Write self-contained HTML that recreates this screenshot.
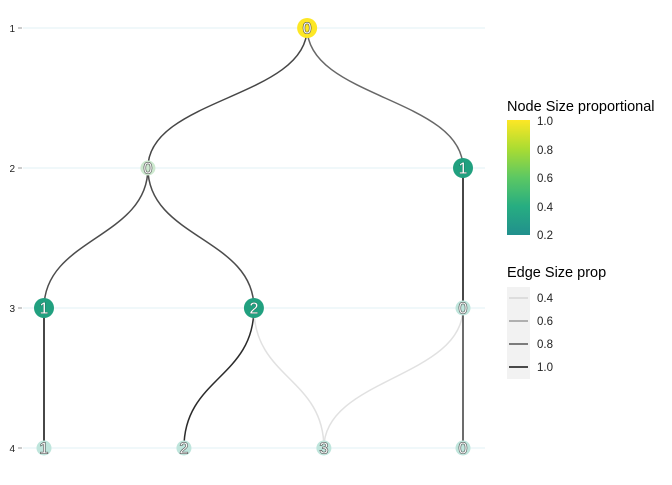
<!DOCTYPE html>
<html><head><meta charset="utf-8"><style>
body{margin:0;background:#fff}
text{font-family:"Liberation Sans",sans-serif}
</style></head><body>
<svg id="chart" width="672" height="480" viewBox="0 0 672 480" xmlns="http://www.w3.org/2000/svg">
<defs>
<linearGradient id="vir" x1="0" y1="1" x2="0" y2="0">
<stop offset="0" stop-color="#21908d"/><stop offset="0.25" stop-color="#27ad81"/><stop offset="0.5" stop-color="#5cc863"/><stop offset="0.75" stop-color="#aadc32"/><stop offset="1" stop-color="#fde725"/>
</linearGradient>
</defs>
<g id="grid"></g>
<g id="edges"></g>
<g id="nodes"></g>
<g>
<text x="507" y="111" font-size="14.5" fill="#000">Node Size proportional</text>
<rect x="507" y="120" width="23" height="115" fill="url(#vir)"/>
<g font-size="11.5" fill="#222">
<text x="537" y="125">1.0</text><text x="537" y="154">0.8</text><text x="537" y="182">0.6</text><text x="537" y="211">0.4</text><text x="537" y="239">0.2</text>
</g>
</g>
<g>
<text x="507" y="277" font-size="14.5" fill="#000">Edge Size prop</text>
<rect x="507" y="287" width="23" height="92" fill="#f2f2f2"/>
<line x1="509" x2="528" y1="298" y2="298" stroke="#d6d6d6" stroke-width="1.5"/>
<line x1="509" x2="528" y1="321" y2="321" stroke="#9a9a9a" stroke-width="1.5"/>
<line x1="509" x2="528" y1="344" y2="344" stroke="#555" stroke-width="1.5"/>
<line x1="509" x2="528" y1="367" y2="367" stroke="#111" stroke-width="1.5"/>
<g font-size="11.5" fill="#222">
<text x="537" y="302">0.4</text><text x="537" y="325">0.6</text><text x="537" y="348">0.8</text><text x="537" y="371">1.0</text>
</g>
</g>
</svg>
<script>
const levels=[1,2,3,4];
const nodeLevel=[1,2,2,3,3,3,4,4,4,4];
const nodePos=[0.628,0.248,1,0,0.501,1,0,0.334,0.668,1];
const nodeLabel=['0','0','1','1','2','0','1','2','3','0'];
const nodeValue=[1.0,0.05,0.35,0.3,0.3,0.05,0.1,0.1,0.1,0.1];
const edgeFrom=[0,0,1,1,2,3,4,4,5,5];
const edgeTo=[1,2,3,4,5,6,7,8,8,9];
const edgeProp=[0.82,0.72,0.8,0.8,1.0,1.0,0.9,0.35,0.35,0.85];
const NS='http://www.w3.org/2000/svg';
const yS=l=>28+(l-1)*140;
const xS=p=>44+p*419;
function mk(t,a,p){const e=document.createElementNS(NS,t);for(const k in a)e.setAttribute(k,a[k]);p.appendChild(e);return e;}
const grid=document.getElementById('grid');
levels.forEach(l=>{
 const g=mk('line',{x1:23,x2:485,y1:yS(l),y2:yS(l),stroke:'#e6f3f6','stroke-width':1.2},grid);
 
 
 mk('line',{x1:18,x2:22,y1:yS(l),y2:yS(l),stroke:'#999'},grid);
 const t=mk('text',{x:15,y:yS(l)+4,'font-size':10,'text-anchor':'end',fill:'#222'},grid);t.textContent=l;
 
 
});
function eColor(p){const v=Math.round(225-(p-0.35)/0.65*215);return `rgb(${v},${v},${v})`;}
const eg=document.getElementById('edges');
edgeFrom.forEach((f,i)=>{
 const t=edgeTo[i];
 const x1=xS(nodePos[f]),y1=yS(nodeLevel[f]),x2=xS(nodePos[t]),y2=yS(nodeLevel[t]);
 const m=(y1+y2)/2;
 const p=mk('path',{d:`M${x1},${y1} C${x1},${m} ${x2},${m} ${x2},${y2}`,fill:'none',stroke:eColor(edgeProp[i]),'stroke-width':1.5},eg);
 
 
});
const ng=document.getElementById('nodes');
nodeLabel.forEach((lab,i)=>{
 const x=xS(nodePos[i]),y=yS(nodeLevel[i]),v=nodeValue[i];
 let fill, r;
 if(v>=0.9){fill='#fde725';r=10;}
 else if(v>=0.2){fill='#21a07f';r=10;}
 else {fill=nodeLevel[i]===2?'#cde9cf':'#bfe5dc';r=7.5;}
 const ci=mk('circle',{cx:x,cy:y,r:r,fill:fill},ng);
 
 
 const teal=v>=0.2&&v<0.9;
 const t=mk('text',{x:x,y:y+5.5,'font-size':16,'text-anchor':'middle',fill:teal?'#fff':'#f4f4f4',stroke:teal?'#1a5a4a':'#333','stroke-width':teal?0.7:1,'paint-order':'stroke'},ng);
 t.textContent=lab;
 
 
});
</script>
</body></html>
